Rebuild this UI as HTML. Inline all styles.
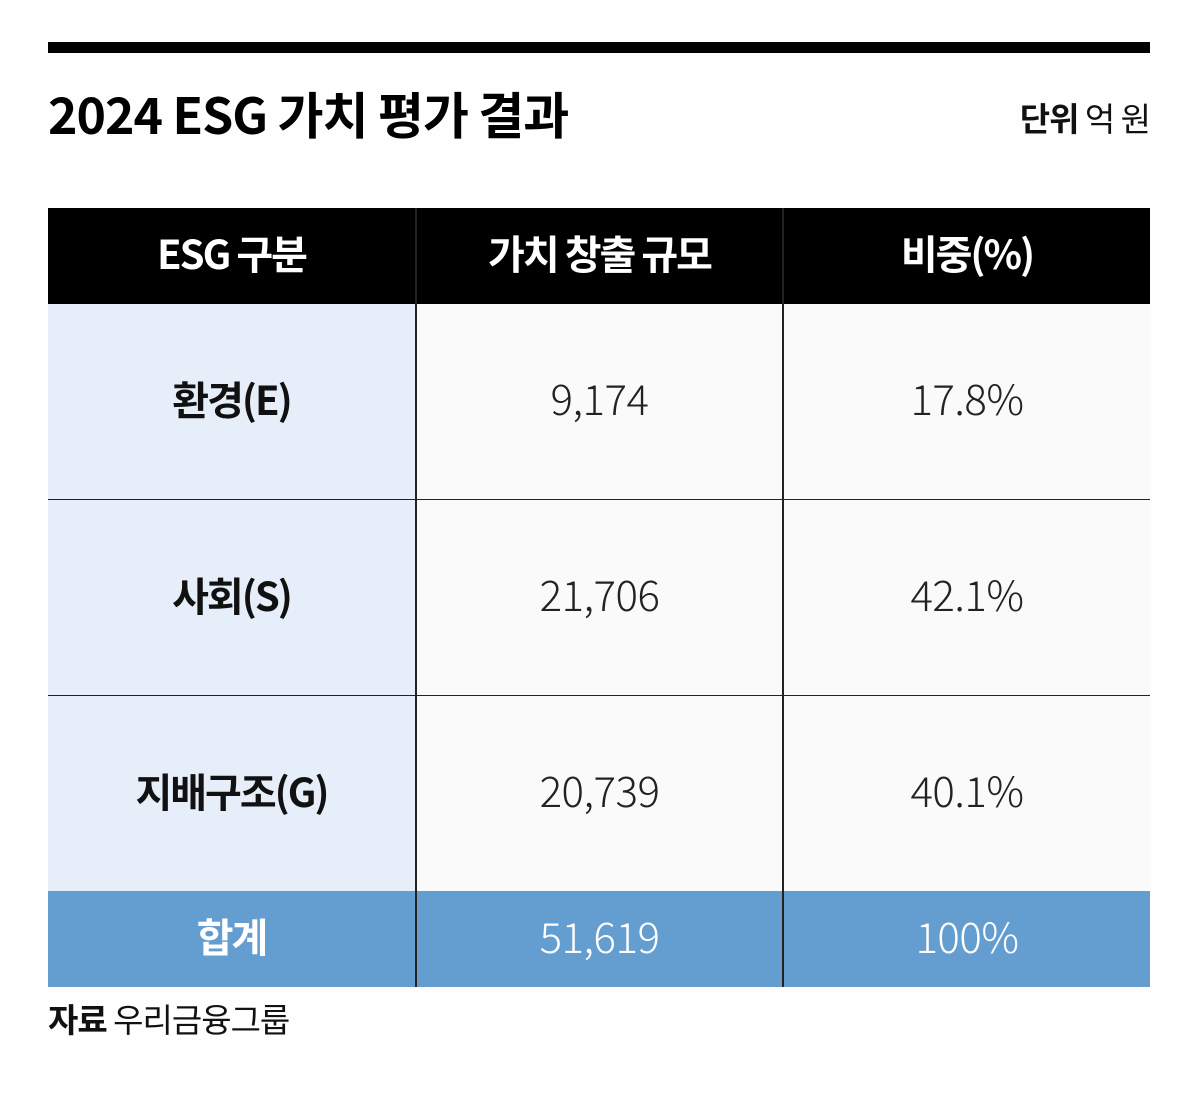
<!DOCTYPE html>
<html><head><meta charset="utf-8"><style>
body{margin:0;width:1200px;height:1097px;background:#fefefe;position:relative;overflow:hidden;font-family:"Liberation Sans","Noto Sans CJK KR",sans-serif;}
.a{position:absolute}
.c{position:absolute;display:flex;align-items:center;justify-content:center;padding-bottom:8px;box-sizing:border-box}
.h{background:#000;color:#fff;font-weight:700;font-size:40px;letter-spacing:-2px;font-family:"Noto Sans CJK KR",sans-serif;}
.l{background:#e6eef9;color:#111;font-weight:700;font-size:40px;letter-spacing:-2px;font-family:"Noto Sans CJK KR",sans-serif;}
.v{background:#fafafa;color:#222;font-size:42px;letter-spacing:-0.5px;font-family:"Noto Sans CJK KR",sans-serif;font-weight:300;}
.t{background:#649dcf;color:#fff;font-size:42px;letter-spacing:-0.5px;font-family:"Noto Sans CJK KR",sans-serif;font-weight:300;}
.tb{font-weight:700;font-size:40px;letter-spacing:-2px}
</style></head><body>
<div class="a" style="left:48px;top:42px;width:1102px;height:11px;background:#000"></div>
<div class="a" style="left:48px;top:80px;font-size:50px;font-weight:700;letter-spacing:-1px;font-family:'Noto Sans CJK KR',sans-serif;line-height:66px;color:#000">2024 ESG 가치 평가 결과</div>
<div class="a" style="right:50px;top:97px;font-size:33px;letter-spacing:-1px;font-family:'Noto Sans CJK KR',sans-serif;line-height:40px;color:#111"><b>단위</b> 억 원</div>

<div class="c h" style="left:48px;top:208px;width:367px;height:96px">ESG 구분</div>
<div class="c h" style="left:417px;top:208px;width:365px;height:96px">가치 창출 규모</div>
<div class="c h" style="left:784px;top:208px;width:366px;height:96px">비중(%)</div>

<div class="c l" style="left:48px;top:304px;width:367px;height:195px">환경(E)</div>
<div class="c v" style="left:417px;top:304px;width:365px;height:195px">9,174</div>
<div class="c v" style="left:784px;top:304px;width:366px;height:195px">17.8%</div>

<div class="c l" style="left:48px;top:500px;width:367px;height:195px">사회(S)</div>
<div class="c v" style="left:417px;top:500px;width:365px;height:195px">21,706</div>
<div class="c v" style="left:784px;top:500px;width:366px;height:195px">42.1%</div>

<div class="c l" style="left:48px;top:696px;width:367px;height:195px">지배구조(G)</div>
<div class="c v" style="left:417px;top:696px;width:365px;height:195px">20,739</div>
<div class="c v" style="left:784px;top:696px;width:366px;height:195px">40.1%</div>

<div class="c t tb" style="left:48px;top:891px;width:367px;height:96px">합계</div>
<div class="c t" style="left:417px;top:891px;width:365px;height:96px">51,619</div>
<div class="c t" style="left:784px;top:891px;width:366px;height:96px">100%</div>

<div class="a" style="left:48px;top:499px;width:1102px;height:1px;background:#222"></div>
<div class="a" style="left:48px;top:695px;width:1102px;height:1px;background:#222"></div>
<div class="a" style="left:415px;top:208px;width:2px;height:779px;background:#222"></div>
<div class="a" style="left:782px;top:208px;width:2px;height:779px;background:#222"></div>

<div class="a" style="left:48px;top:996px;font-size:33px;letter-spacing:-1px;font-family:'Noto Sans CJK KR',sans-serif;line-height:44px;color:#111"><b>자료</b> 우리금융그룹</div>
</body></html>
